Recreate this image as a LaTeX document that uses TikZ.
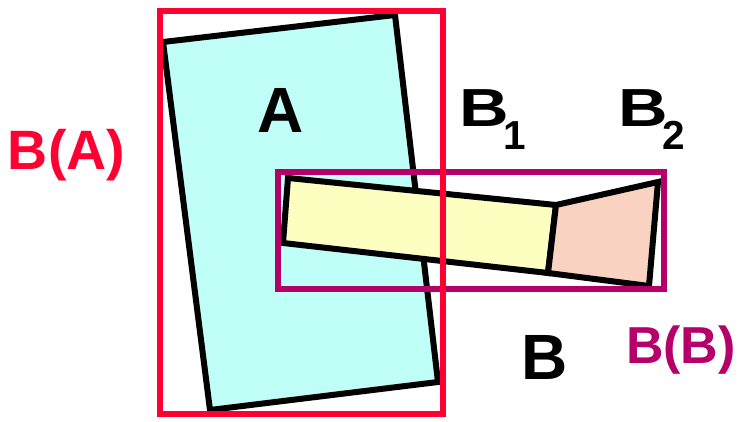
\documentclass[tikz,border=0pt]{standalone}
\usepackage{fontspec}
\setmainfont{Liberation Sans}
\definecolor{cyanA}{RGB}{192,255,248}
\definecolor{yelB}{RGB}{252,255,192}
\definecolor{pinkB}{RGB}{250,210,194}
\definecolor{redBA}{RGB}{255,0,51}
\definecolor{magBB}{RGB}{181,0,106}
\newcommand{\partlabel}[3]{\scalebox{1.28}[1]{\makebox[0.6em][c]{B}}\hspace{#2}\raisebox{-23.3pt}{\fontsize{40.5}{40.5}\selectfont\makebox[#3][c]{#1}}}
\tikzset{
  part/.style={draw=black,line width=6pt,line join=miter},
  bbox/.style={line width=6pt},
  lbl/.style={inner sep=0pt,anchor=base,font=\bfseries},
  sublbl/.style={inner sep=0pt,anchor=base west,font=\bfseries\fontsize{53.6}{53.6}\selectfont}
}
\begin{document}
\begin{tikzpicture}[x=1pt,y=-1pt]
\useasboundingbox (0,0) rectangle (742,422);
% object A
\filldraw[part,fill=cyanA] (163,42) -- (395,15) -- (438,382) -- (210,410) -- cycle;
% object B parts
\filldraw[part,fill=yelB] (288,178) -- (556,205) -- (548,273) -- (283,243) -- cycle;
\filldraw[part,fill=pinkB] (556,205) -- (658,182) -- (649,286) -- (548,273) -- cycle;
% bounding boxes
\draw[bbox,draw=magBB] (278,172.5) rectangle (664,289);
\draw[bbox,draw=redBA] (159.5,11) rectangle (443,414);
% labels
\node[lbl,font=\bfseries\fontsize{64}{64}\selectfont] (tA) at (281,133) {A};
\node[lbl,text=redBA,font=\bfseries\fontsize{55.5}{55.5}\selectfont] (tBA) at (66.5,170) {B(A)};
\node[sublbl] (tB1) at (463.4,126.7) {\partlabel{1}{1.8pt}{16.2pt}};
\node[sublbl] (tB2) at (622.7,126.7) {\partlabel{2}{1pt}{18.2pt}};
\node[lbl,font=\bfseries\fontsize{64}{64}\selectfont] (tB) at (544.5,379) {B};
\node[lbl,text=magBB,font=\bfseries\fontsize{52}{52}\selectfont] (tBB) at (681,363) {B(B)};
\end{tikzpicture}
\end{document}
